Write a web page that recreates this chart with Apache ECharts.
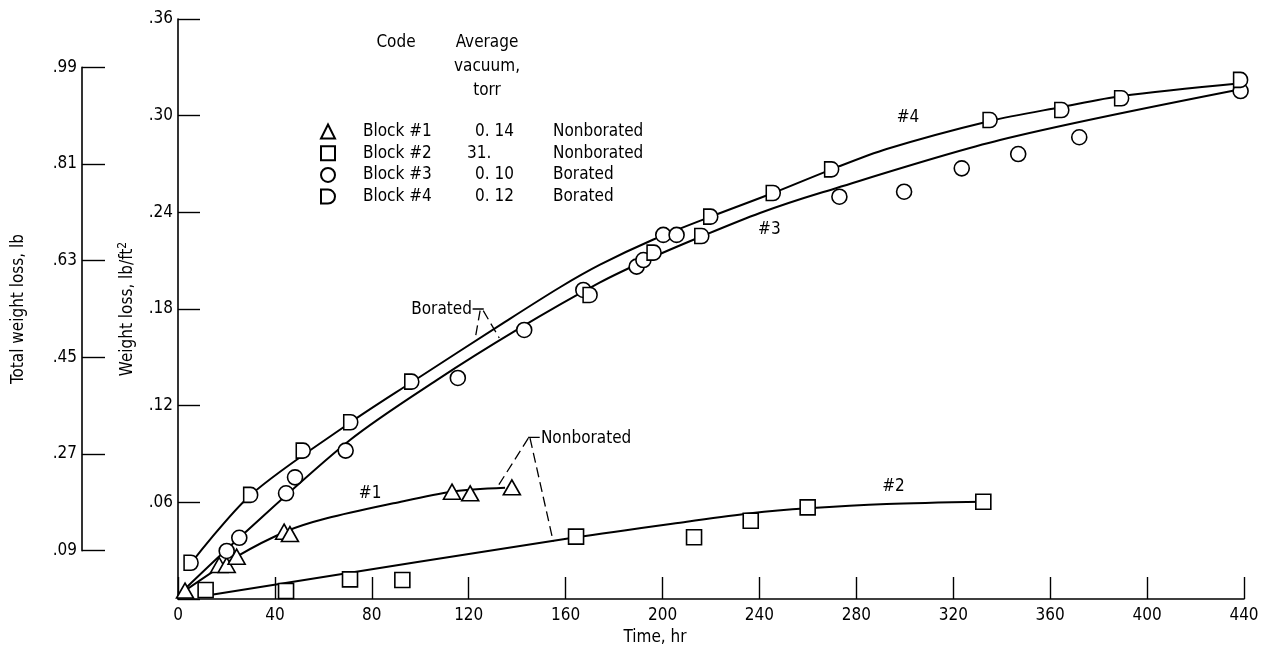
<!DOCTYPE html>
<html lang="en">
<head>
<meta charset="UTF-8">
<title>Weight loss vs time</title>
<script src="https://cdn.jsdelivr.net/npm/echarts@6/dist/echarts.min.js"></script>
<style>
  html, body { margin: 0; background: #fff; }
  #main { width: 1269px; height: 655px; }
</style>
</head>
<body>
<div id="main"></div>
<script>
// measured points: [time, hr ; weight loss, lb/ft2]
var block1 = [[2.9,0.0052],[17.0,0.0211],[20.1,0.0211],[24.2,0.0263],[43.8,0.0418],[46.2,0.0403],[113.1,0.0666],[120.6,0.0656],[137.8,0.0693]];
var block2 = [[11.4,0.0056],[44.6,0.0050],[71.0,0.0122],[92.6,0.0118],[164.3,0.0387],[213.0,0.0383],[236.4,0.0486],[259.9,0.0569],[332.4,0.0604]];
var block3 = [[20.1,0.0298],[25.3,0.0380],[44.6,0.0656],[48.3,0.0755],[69.2,0.0921],[115.5,0.1372],[142.9,0.1670],[167.3,0.1918],[189.3,0.2063],[192.1,0.2104],[200.3,0.2260],[205.8,0.2260],[273.0,0.2497],[299.7,0.2528],[323.5,0.2673],[346.8,0.2762],[372.0,0.2866],[438.6,0.3153]];
var block4 = [[5.4,0.0225],[30.0,0.0646],[51.7,0.0921],[71.3,0.1097],[96.5,0.1349],[170.1,0.1887],[196.5,0.2150],[216.2,0.2253],[219.9,0.2373],[245.7,0.2520],[269.8,0.2667],[335.2,0.2973],[364.8,0.3035],[389.5,0.3108],[438.6,0.3222]];

// faired curves
var curve1 = [[2.9,0.0052],[24.2,0.0263],[45.0,0.0422],[61.4,0.0501],[88.9,0.0594],[113.1,0.0666],[135.0,0.0690]];
var curve2 = [[13.2,0.0025],[164.3,0.0383],[210.0,0.0480],[236.4,0.0532],[259.9,0.0563],[292.5,0.0590],[332.4,0.0604]];
var curve3 = [[2.0,0.0050],[25.3,0.0380],[71.0,0.0987],[106.8,0.1359],[140.0,0.1672],[174.2,0.1965],[195.0,0.2115],[215.5,0.2247],[240.2,0.2396],[265.0,0.2520],[339.3,0.2849],[438.6,0.3164]];
var curve4 = [[5.4,0.0223],[30.0,0.0646],[71.3,0.1097],[95.8,0.1339],[135.0,0.1720],[157.7,0.1935],[174.2,0.2075],[196.0,0.2230],[219.9,0.2373],[245.6,0.2520],[269.8,0.2667],[292.5,0.2793],[335.2,0.2967],[364.8,0.3054],[389.5,0.3122],[438.6,0.3201]];

// legend table
var blockNames = ['Block #1', 'Block #2', 'Block #3', 'Block #4'];
var vacuum = ['0. 14', '31.', '0. 10', '0. 12'];
var boration = ['Nonborated', 'Nonborated', 'Borated', 'Borated'];

// tick values
var timeTicks = [0, 40, 80, 120, 160, 200, 240, 280, 320, 360, 400, 440];
var lossTicks = [0, 0.06, 0.12, 0.18, 0.24, 0.30, 0.36];
var totalTicks = [0.09, 0.27, 0.45, 0.63, 0.81, 0.99];

// curve tags and leader lines, in data coordinates
var notes = [
  {text: '#1', at: [79.3, 0.0656], align: 'center'},
  {text: '#2', at: [295.3, 0.0697], align: 'center'},
  {text: '#3', at: [244.1, 0.2295], align: 'center'},
  {text: '#4', at: [301.3, 0.2986], align: 'center'},
  {text: 'Borated', at: [121.3, 0.1794], align: 'right'},
  {text: 'Nonborated', at: [149.8, 0.0995], align: 'left'}
];
var hooks = [
  [[121.6, 0.1800], [126.2, 0.1800]],
  [[144.5, 0.1003], [149.3, 0.1003]]
];
var leaders = [
  [[124.7, 0.1790], [122.6, 0.1610]],
  [[126.0, 0.1790], [132.6, 0.1620]],
  [[144.6, 0.0998], [131.5, 0.0687]],
  [[145.3, 0.0998], [154.9, 0.0356]]
];

var FONT = '"DejaVu Sans Condensed", "Liberation Sans Narrow", sans-serif';
var FS = 17;
var dShape = 'path://M0,0 L6,0 A6,6 0 0 1 6,12 L0,12 Z';

function dotLabel(v) {
  if (v === 0) return '';
  return '.' + v.toFixed(2).split('.')[1];
}

var myChart = echarts.init(document.getElementById('main'));

var markerStyle = {color: '#fff', borderColor: '#000', borderWidth: 1.6, opacity: 1};
var curveStyle = {color: '#000', width: 2};

var series = [];
[curve1, curve2, curve3, curve4].forEach(function (c) {
  series.push({type: 'line', data: c, smooth: 0.3, showSymbol: false, silent: true,
    lineStyle: curveStyle, z: 2});
});
hooks.forEach(function (h) {
  series.push({type: 'line', data: h, showSymbol: false, silent: true,
    lineStyle: {color: '#000', width: 1.3}, z: 2});
});
leaders.forEach(function (h) {
  series.push({type: 'line', data: h, showSymbol: false, silent: true,
    lineStyle: {color: '#000', width: 1.3, type: [10, 5]}, z: 2});
});
series.push({name: 'Block #1', type: 'scatter', symbol: 'triangle', symbolSize: [17, 15], data: block1, itemStyle: markerStyle, z: 3});
series.push({name: 'Block #2', type: 'scatter', symbol: 'rect', symbolSize: 15, data: block2, itemStyle: markerStyle, z: 3});
series.push({name: 'Block #3', type: 'scatter', symbol: 'circle', symbolSize: 15, data: block3, itemStyle: markerStyle, z: 3});
series.push({name: 'Block #4', type: 'scatter', symbol: dShape, symbolSize: [14, 15], data: block4, itemStyle: markerStyle, z: 3});
series.push({
  type: 'scatter', symbolSize: 0, silent: true, z: 4,
  itemStyle: {opacity: 1},
  data: notes.map(function (n) {
    var pos = n.align === 'right' ? 'left' : (n.align === 'left' ? 'right' : 'inside');
    return {value: n.at, label: {show: true, formatter: n.text, position: pos, distance: 0,
      fontFamily: FONT, fontSize: FS, color: '#000'}};
  })
});

var option = {
  animation: false,
  textStyle: {fontFamily: FONT},
  grid: [
    {left: 178, right: 25, top: 19, bottom: 56},
    {left: 82, width: 25, top: 67.4, bottom: 104.3}
  ],
  legend: {
    data: blockNames, orient: 'vertical', left: 315, top: 118,
    itemWidth: 14, itemHeight: 14, itemGap: 4.7, selectedMode: false,
    textStyle: {
      fontFamily: FONT, fontSize: FS, color: '#000',
      rich: {
        s: {width: 23}, a: {width: 104}, p: {width: 8},
        b: {width: 78}, c: {width: 86}, d: {}
      }
    },
    formatter: function (name) {
      var i = blockNames.indexOf(name);
      var vac = i === 1 ? '{c|' + vacuum[i] + '}' : '{p|}{b|' + vacuum[i] + '}';
      return '{s|}{a|' + name + '}' + vac + '{d|' + boration[i] + '}';
    }
  },
  graphic: [
    {type: 'text', x: 396, y: 43, style: {text: 'Code', font: FS + 'px ' + FONT, fill: '#000', textAlign: 'center', textVerticalAlign: 'middle'}},
    {type: 'text', x: 487, y: 31, style: {text: 'Average\nvacuum,\ntorr', font: FS + 'px ' + FONT, lineHeight: 24, fill: '#000', textAlign: 'center', textVerticalAlign: 'top'}}
  ],
  xAxis: [
    {
      type: 'value', min: timeTicks[0], max: timeTicks[timeTicks.length - 1], interval: timeTicks[1] - timeTicks[0],
      name: 'Time, hr', nameLocation: 'middle', nameGap: 30,
      nameTextStyle: {fontFamily: FONT, fontSize: FS, color: '#000', padding: [0, 112, 0, 0]},
      axisLine: {lineStyle: {color: '#000', width: 1.6}},
      axisTick: {inside: true, length: 22, lineStyle: {color: '#000', width: 1.4}},
      axisLabel: {fontFamily: FONT, fontSize: FS, color: '#000', margin: 8},
      splitLine: {show: false}
    },
    {type: 'value', gridIndex: 1, show: false, min: 0, max: 1}
  ],
  yAxis: [
    {
      type: 'value', min: lossTicks[0], max: lossTicks[lossTicks.length - 1], interval: lossTicks[1] - lossTicks[0],
      name: 'Weight loss, lb/ft{sup|2}', nameLocation: 'middle', nameGap: 40,
      nameTextStyle: {fontFamily: FONT, fontSize: FS, color: '#000',
        rich: {sup: {fontFamily: FONT, fontSize: 12, color: '#000', verticalAlign: 'top', padding: [0, 0, 9, 0]}}},
      axisLine: {lineStyle: {color: '#000', width: 1.6}},
      axisTick: {inside: true, length: 22, lineStyle: {color: '#000', width: 1.4}},
      axisLabel: {fontFamily: FONT, fontSize: FS, color: '#000', margin: 5, formatter: dotLabel},
      splitLine: {show: false}
    },
    {
      type: 'value', gridIndex: 1, min: totalTicks[0], max: totalTicks[totalTicks.length - 1], interval: totalTicks[1] - totalTicks[0],
      name: 'Total weight loss, lb', nameLocation: 'middle', nameGap: 55,
      nameTextStyle: {fontFamily: FONT, fontSize: FS, color: '#000'},
      axisLine: {lineStyle: {color: '#000', width: 1.6}},
      axisTick: {inside: true, length: 23, lineStyle: {color: '#000', width: 1.4}},
      axisLabel: {fontFamily: FONT, fontSize: FS, color: '#000', margin: 5, formatter: dotLabel},
      splitLine: {show: false}
    }
  ],
  series: series
};

myChart.setOption(option);
</script>
</body>
</html>
